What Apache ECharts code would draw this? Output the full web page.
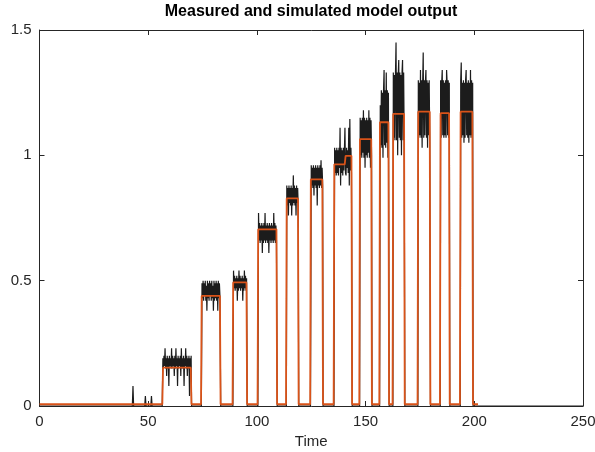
<!DOCTYPE html>
<html>
<head>
<meta charset="utf-8">
<script src="https://cdn.jsdelivr.net/npm/echarts@6/dist/echarts.min.js"></script>
<style>
  html, body { margin: 0; padding: 0; background: #fff; }
  #chart { width: 595px; height: 452px; }
</style>
</head>
<body>
<div id="chart"></div>
<script>
// measured output: zero except during the input pulses
const pulseStart = [56.5, 74.5, 89.0, 100.5, 113.6, 124.7, 135.5, 147.3, 156.5, 162.6, 174.1, 184.4, 193.6];
const pulseEnd = [69.9, 83.3, 95.5, 109.3, 119.2, 130.4, 143.8, 152.9, 160.8, 168.0, 179.8, 188.7, 199.4];
const sampleStep = 0.25;
// measured samples inside each pulse, one every sampleStep from the first grid time after the pulse start
const measuredInPulse = [
  [0.19, 0.15, 0.20, 0.16, 0.23, 0.15, 0.19, 0.12, 0.20, 0.15,
   0.19, 0.08, 0.20, 0.16, 0.19, 0.15, 0.23, 0.15, 0.20, 0.16,
   0.19, 0.12, 0.20, 0.15, 0.23, 0.16, 0.19, 0.08, 0.20, 0.15,
   0.19, 0.16, 0.20, 0.12, 0.23, 0.15, 0.19, 0.15, 0.20, 0.08,
   0.19, 0.16, 0.23, 0.15, 0.20, 0.12, 0.19, 0.15, 0.20, 0.04,
   0.19, 0.15, 0.20],
  [0.49, 0.43, 0.50, 0.42, 0.49, 0.44, 0.50, 0.42, 0.48, 0.38,
   0.50, 0.43, 0.49, 0.42, 0.50, 0.44, 0.49, 0.42, 0.50, 0.43,
   0.48, 0.38, 0.50, 0.42, 0.49, 0.43, 0.50, 0.42, 0.49, 0.38,
   0.50, 0.43, 0.49, 0.44],
  [0.54, 0.47, 0.52, 0.46, 0.51, 0.47, 0.52, 0.42, 0.51, 0.46,
   0.54, 0.47, 0.52, 0.46, 0.51, 0.47, 0.52, 0.42, 0.51, 0.46,
   0.54, 0.47, 0.52, 0.46, 0.51],
  [0.77, 0.66, 0.73, 0.65, 0.72, 0.66, 0.73, 0.61, 0.72, 0.65,
   0.73, 0.66, 0.77, 0.65, 0.72, 0.66, 0.73, 0.65, 0.72, 0.61,
   0.73, 0.66, 0.72, 0.65, 0.73, 0.66, 0.72, 0.65, 0.77, 0.66,
   0.73, 0.65, 0.72, 0.66],
  [0.88, 0.80, 0.87, 0.76, 0.88, 0.81, 0.87, 0.80, 0.88, 0.76,
   0.87, 0.80, 0.92, 0.81, 0.88, 0.80, 0.87, 0.76, 0.88, 0.81,
   0.87, 0.80],
  [0.96, 0.88, 0.95, 0.87, 0.96, 0.84, 0.95, 0.88, 0.96, 0.87,
   0.95, 0.80, 0.96, 0.88, 0.95, 0.87, 0.96, 0.88, 0.98, 0.87,
   0.95, 0.88],
  [1.03, 0.93, 1.02, 0.92, 1.03, 0.93, 1.02, 0.92, 1.03, 0.95,
   1.11, 0.88, 1.03, 0.93, 1.02, 0.92, 1.03, 0.94, 1.02, 1.11,
   0.93, 0.92, 1.03, 0.95, 1.02, 0.93, 1.11, 0.88, 1.145, 0.94,
   1.03, 0.93],
  [1.15, 1.00, 1.14, 0.99, 1.15, 1.01, 1.18, 0.99, 1.15, 0.95,
   1.14, 1.00, 1.15, 0.99, 1.14, 1.01, 1.18, 0.99, 1.15, 0.95,
   1.14, 1.00],
  [1.20, 1.04, 1.26, 1.03, 1.25, 0.99, 1.26, 1.34, 1.04, 1.26,
   1.03, 1.33, 1.05, 1.26, 0.99, 1.25],
  [1.33, 1.07, 1.32, 1.06, 1.33, 1.45, 1.06, 1.33, 1.00, 1.32,
   1.38, 1.07, 1.33, 1.06, 1.32, 1.00, 1.33, 1.38, 1.06, 1.33,
   1.07],
  [1.30, 1.07, 1.29, 1.08, 1.34, 1.07, 1.30, 1.03, 1.29, 1.41,
   1.07, 1.30, 1.08, 1.29, 1.34, 1.07, 1.30, 1.03, 1.29, 1.08,
   1.30, 1.07],
  [1.30, 1.07, 1.29, 1.34, 1.08, 1.30, 1.07, 1.29, 1.08, 1.30,
   1.07, 1.34, 1.29, 1.08, 1.30, 1.07, 1.29],
  [1.30, 1.37, 1.07, 1.29, 1.08, 1.30, 1.05, 1.29, 1.07, 1.30,
   1.34, 1.08, 1.29, 1.07, 1.30, 1.05, 1.29, 1.08, 1.34, 1.07,
   1.30, 1.08, 1.29]
];
// small blips in the measured output before the first pulse
const spikeTime = [43.0, 48.7, 51.5];
const spikeValue = [0.08, 0.04, 0.04];
const measuredEnd = 250;

// simulated model output (corner points of the step response)
const simTime = [0, 56.5, 56.8, 69.6, 69.9, 74.3, 74.6, 83.0, 83.3, 88.8, 89.1, 95.2, 95.5, 100.3, 100.6,
  109.0, 109.3, 113.4, 113.7, 118.9, 119.2, 124.5, 124.8, 130.1, 130.4, 135.3, 135.6, 140.4, 140.8,
  143.5, 143.8, 147.1, 147.4, 152.6, 152.9, 156.3, 156.6, 160.5, 160.8, 162.4, 162.7, 167.7, 168.0,
  173.9, 174.2, 179.5, 179.8, 184.2, 184.5, 188.4, 188.7, 193.4, 193.7, 199.1, 199.4, 201.7];
const simValue = [0.007, 0.007, 0.153, 0.153, 0.007, 0.007, 0.439, 0.439, 0.007, 0.007, 0.493, 0.493, 0.007, 0.007, 0.705,
  0.705, 0.007, 0.007, 0.828, 0.828, 0.007, 0.007, 0.904, 0.904, 0.007, 0.007, 0.964, 0.964, 0.998,
  0.998, 0.007, 0.007, 1.065, 1.065, 0.007, 0.007, 1.132, 1.132, 0.007, 0.007, 1.165, 1.165, 0.007,
  0.007, 1.174, 1.174, 0.007, 0.007, 1.168, 1.168, 0.007, 0.007, 1.174, 1.174, 0.007, 0.007];

const xTicks = [0, 50, 100, 150, 200, 250];
const yTicks = [0, 0.5, 1, 1.5];

// assemble the measured trace
const measured = [[0, 0]];
spikeTime.forEach((t, i) => {
  measured.push([t - 0.3, 0], [t, spikeValue[i]], [t + 0.3, 0]);
});
pulseStart.forEach((start, p) => {
  const first = Math.ceil((start + 0.1) / sampleStep) * sampleStep;
  measured.push([start - 0.05, 0]);
  measuredInPulse[p].forEach((v, i) => measured.push([first + i * sampleStep, v]));
  measured.push([pulseEnd[p] + 0.05, 0]);
});
measured.push([measuredEnd, 0]);

const simulated = simTime.map((t, i) => [t, simValue[i]]);

const axisColor = "#262626";
const font = "Liberation Sans, Arial, Helvetica, sans-serif";

const chart = echarts.init(document.getElementById("chart"));

const baseX = {
  type: "value",
  min: xTicks[0],
  max: xTicks[xTicks.length - 1],
  interval: 50,
  splitLine: { show: false },
  axisLine: { show: true, onZero: false, lineStyle: { color: axisColor, width: 1 } },
  axisTick: { show: true, inside: true, length: 5, lineStyle: { color: axisColor } },
};
const baseY = {
  type: "value",
  min: yTicks[0],
  max: yTicks[yTicks.length - 1],
  interval: 0.5,
  splitLine: { show: false },
  axisLine: { show: true, onZero: false, lineStyle: { color: axisColor, width: 1 } },
  axisTick: { show: true, inside: true, length: 5, lineStyle: { color: axisColor } },
};

chart.setOption({
  animation: false,
  backgroundColor: "#fff",
  grid: { left: 39.5, right: 12, top: 30, bottom: 46, containLabel: false, outerBoundsMode: "none" },
  graphic: [
    {
      type: "text",
      x: 311,
      y: 4,
      style: {
        text: "Measured and simulated model output",
        textAlign: "center",
        align: "center",
        textVerticalAlign: "top",
        verticalAlign: "top",
        fill: "#000",
        font: "bold 16px " + font,
      },
    },
  ],
  xAxis: [
    {
      ...baseX,
      position: "bottom",
      name: "Time",
      nameLocation: "middle",
      nameGap: 27,
      nameTextStyle: { color: axisColor, fontSize: 15, fontFamily: font },
      axisLabel: { color: axisColor, fontSize: 15, fontFamily: font, margin: 8 },
    },
    { ...baseX, position: "top", axisLabel: { show: false } },
  ],
  yAxis: [
    {
      ...baseY,
      position: "left",
      axisLabel: { color: axisColor, fontSize: 15, fontFamily: font, margin: 8 },
    },
    { ...baseY, position: "right", axisLabel: { show: false } },
  ],
  series: [
    {
      name: "Measured",
      type: "line",
      data: measured,
      showSymbol: false,
      symbol: "none",
      lineStyle: { color: "#1c1c1c", width: 1.2 },
      z: 2,
    },
    {
      name: "Simulated",
      type: "line",
      data: simulated,
      showSymbol: false,
      symbol: "none",
      lineStyle: { color: "#D95319", width: 1.8 },
      z: 3,
    },
  ],
});
</script>
</body>
</html>
